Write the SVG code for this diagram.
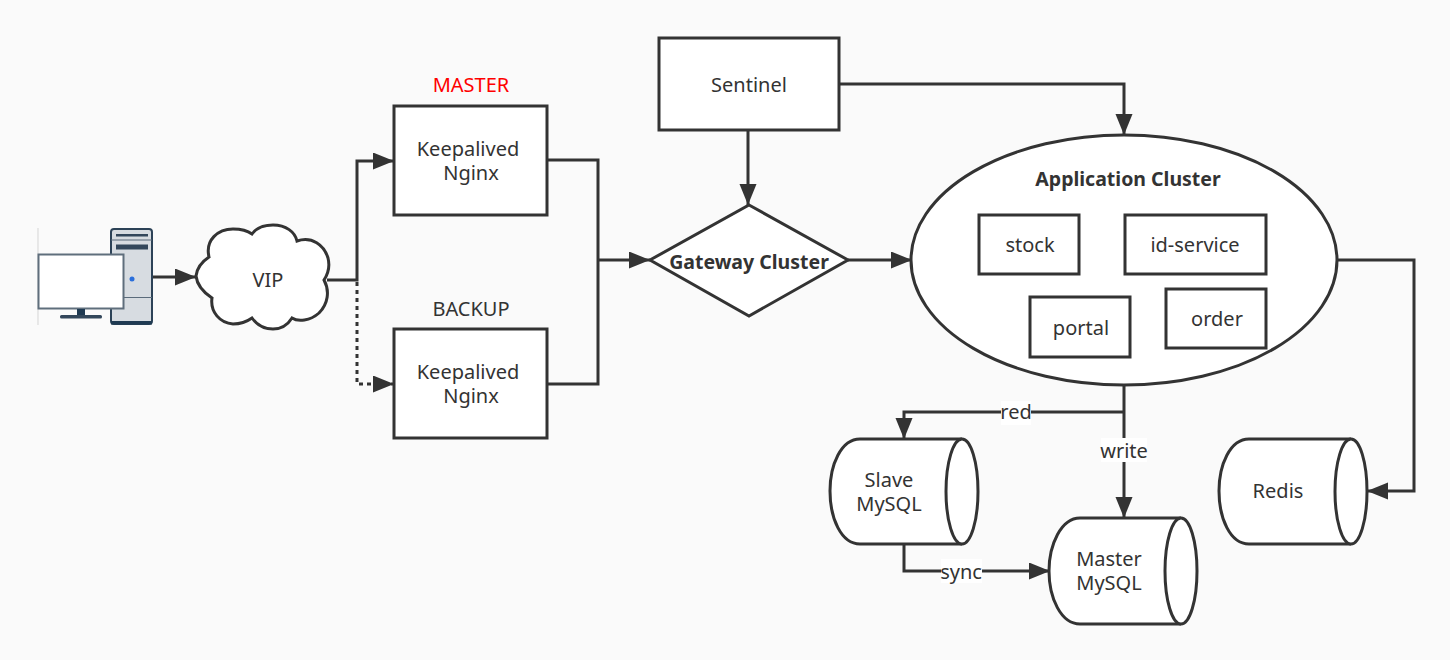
<svg xmlns="http://www.w3.org/2000/svg" width="1450" height="660" viewBox="0 0 1450 660">
<style>
text{font-family:"Noto Sans","Open Sans",sans-serif;font-size:20px;fill:#333;text-anchor:middle}
.s{fill:#fff;stroke:#333;stroke-width:3}
.c{fill:none;stroke:#333;stroke-width:3}
.a{marker-end:url(#arr)}
.b{font-weight:700;font-size:19.500px}
.lb{fill:#fff;stroke:none}
</style>
<defs>
<marker id="arr" markerUnits="userSpaceOnUse" markerWidth="22" markerHeight="18" refX="21" refY="8.500" orient="auto" viewBox="0 0 22 18"><path d="M0 0L21 8.500L0 17z" fill="#333"/></marker>
</defs>
<rect width="1450" height="660" fill="#fafafa"/>
<g id="connectors">
<path class="c a" d="M153 277H196"/>
<path class="c a" d="M327 280H357V161H394"/>
<path class="c a" d="M357 282V384H394" stroke-dasharray="4 4"/>
<path class="c" d="M547 160H598V384H547"/>
<path class="c a" d="M598 260H650"/>
<path class="c a" d="M748 131V205"/>
<path class="c a" d="M848 260H912"/>
<path class="c a" d="M839 84H1124V135"/>
<path class="c a" d="M1337 260H1414V491H1367"/>
<path class="c" d="M1124 386V412"/>
<path class="c a" d="M1124 412H904V439"/>
<path class="c a" d="M1124 412V518"/>
<path class="c a" d="M904 544V571H1050"/>
</g>
<g id="computer">
<path d="M38 228V325" stroke="#d5d5d5" fill="none"/>
<rect x="111" y="229" width="41" height="95" rx="3" fill="#d7dce1" stroke="#2c4257" stroke-width="2"/>
<path d="M111 240H152M124 297.500H152" stroke="#5a6b7b" fill="none"/>
<rect x="116" y="234" width="32" height="2.500" fill="#33475b"/>
<rect x="116" y="244.500" width="32" height="5" fill="#33475b"/>
<rect x="111" y="321" width="41" height="3.500" fill="#1f3a52"/>
<circle cx="132" cy="279" r="2.500" fill="#2a6fdb"/>
<rect x="38.500" y="254.500" width="85" height="54" fill="#fff" stroke="#5f6e7c" stroke-width="2"/>
<rect x="77" y="309" width="8" height="8" fill="#1f3a52"/>
<rect x="60" y="315" width="42" height="3.500" rx="1.500" fill="#33475b"/>
</g>
<g id="vip">
<path class="s" d="M196 276C197 267 203 261 209 257C205 240 218 229 233 229C241 229 248 231 252 234C257 227 265 225 273 225C286 225 295 232 297 241C312 236 324 245 328 258C330 266 328 274 324 280C330 291 328 304 319 313C310 321 298 322 292 318C287 326 280 329 273 329C264 329 257 325 252 318C245 323 239 324 233 324C220 323 210 312 212 298C203 292 197 285 196 276Z"/>
<text x="268" y="287">VIP</text>
</g>
<g id="master-label"><text x="471" y="92" style="fill:#f00">MASTER</text></g>
<g id="nginx-master">
<rect class="s" x="394" y="106" width="153" height="109"/>
<text x="468" y="156">Keepalived<tspan x="471" dy="24">Nginx</tspan></text>
</g>
<g id="backup-label"><text x="471" y="316">BACKUP</text></g>
<g id="nginx-backup">
<rect class="s" x="394" y="329" width="153" height="109"/>
<text x="468" y="379">Keepalived<tspan x="471" dy="24">Nginx</tspan></text>
</g>
<g id="sentinel">
<rect class="s" x="659" y="38" width="180" height="92"/>
<text x="749" y="92">Sentinel</text>
</g>
<g id="gateway">
<path class="s" d="M749 205L848 260L749 316L650 260Z"/>
<text class="b" x="749" y="269">Gateway Cluster</text>
</g>
<g id="app-cluster">
<ellipse class="s" cx="1124" cy="260" rx="213" ry="125"/>
<text class="b" x="1128" y="186">Application Cluster</text>
</g>
<g id="stock"><rect class="s" x="979" y="215" width="100" height="59"/><text x="1030" y="252">stock</text></g>
<g id="id-service"><rect class="s" x="1125" y="215" width="141" height="59"/><text x="1195" y="252">id-service</text></g>
<g id="portal"><rect class="s" x="1030" y="297" width="100" height="60"/><text x="1081" y="335">portal</text></g>
<g id="order"><rect class="s" x="1166" y="289" width="100" height="59"/><text x="1217" y="326">order</text></g>
<g id="slave">
<path class="s" d="M962 439H860C841 439 830 465 830 491C830 518 841 544 860 544H962"/>
<ellipse class="s" cx="962" cy="491.500" rx="16" ry="52.500"/>
<text x="889" y="487">Slave<tspan x="889" dy="24">MySQL</tspan></text>
</g>
<g id="master-db">
<path class="s" d="M1181 518H1080C1061 518 1049 545 1049 571C1049 598 1061 624 1080 624H1181"/>
<ellipse class="s" cx="1181" cy="571" rx="16" ry="53"/>
<text x="1109" y="566">Master<tspan x="1109" dy="24">MySQL</tspan></text>
</g>
<g id="redis">
<path class="s" d="M1351 439H1249C1230 439 1219 465 1219 491C1219 518 1230 544 1249 544H1351"/>
<ellipse class="s" cx="1351" cy="491.500" rx="16" ry="52.500"/>
<text x="1278" y="498">Redis</text>
</g>
<g id="edge-labels">
<rect class="lb" x="1001" y="401" width="30" height="24"/><text x="1016" y="419">red</text>
<rect class="lb" x="1101" y="438" width="46" height="24"/><text x="1124" y="458">write</text>
<rect class="lb" x="941" y="559" width="41" height="24"/><text x="961" y="579">sync</text>
</g>
</svg>
